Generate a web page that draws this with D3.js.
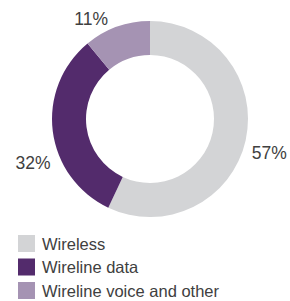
<!DOCTYPE html>
<html>
<head>
<meta charset="utf-8">
<script src="https://cdn.jsdelivr.net/npm/d3@7"></script>
<style>
  body { margin: 0; background: #fff; }
  text { font-family: "Liberation Sans", Arial, sans-serif; fill: #404040; }
</style>
</head>
<body>
<svg id="chart" width="290" height="301"></svg>
<script>
// data
var categories = ['Wireless', 'Wireline data', 'Wireline voice and other'];
var shares = [57, 32, 11];
var labels = ['57%', '32%', '11%'];
var colors = ['#d3d4d6', '#532b6c', '#a593b3'];

// label placement (degrees clockwise from top, distance from centre)
var labelAngle = [105.8, 249.4, 329.5];
var labelRadius = [124, 125, 116];

var svg = d3.select('#chart');
var cx = 150, cy = 119, outerR = 98, innerR = 64;

var pie = d3.pie().sort(null).value(function(d) { return d; });
var arc = d3.arc().innerRadius(innerR).outerRadius(outerR);
var color = d3.scaleOrdinal().domain(categories).range(colors);

var g = svg.append('g').attr('transform', 'translate(' + cx + ',' + cy + ')');

g.selectAll('path').data(pie(shares)).enter().append('path')
  .attr('d', arc)
  .attr('fill', function(d, i) { return color(categories[i]); });

g.selectAll('text.pct').data(labels).enter().append('text')
  .attr('class', 'pct')
  .attr('x', function(d, i) { return labelRadius[i] * Math.sin(labelAngle[i] * Math.PI / 180); })
  .attr('y', function(d, i) { return -labelRadius[i] * Math.cos(labelAngle[i] * Math.PI / 180); })
  .attr('dy', '0.36em')
  .attr('text-anchor', 'middle')
  .style('font-size', '17.5px')
  .text(function(d) { return d; });

var legend = svg.append('g').attr('transform', 'translate(18,235)');
var row = legend.selectAll('g').data(categories).enter().append('g')
  .attr('transform', function(d, i) { return 'translate(0,' + (i * 23.5) + ')'; });
row.append('rect')
  .attr('width', 17).attr('height', 17)
  .attr('fill', function(d) { return color(d); });
row.append('text')
  .attr('x', 24).attr('y', 14.5)
  .style('font-size', '16.5px')
  .text(function(d) { return d; });
</script>
</body>
</html>
